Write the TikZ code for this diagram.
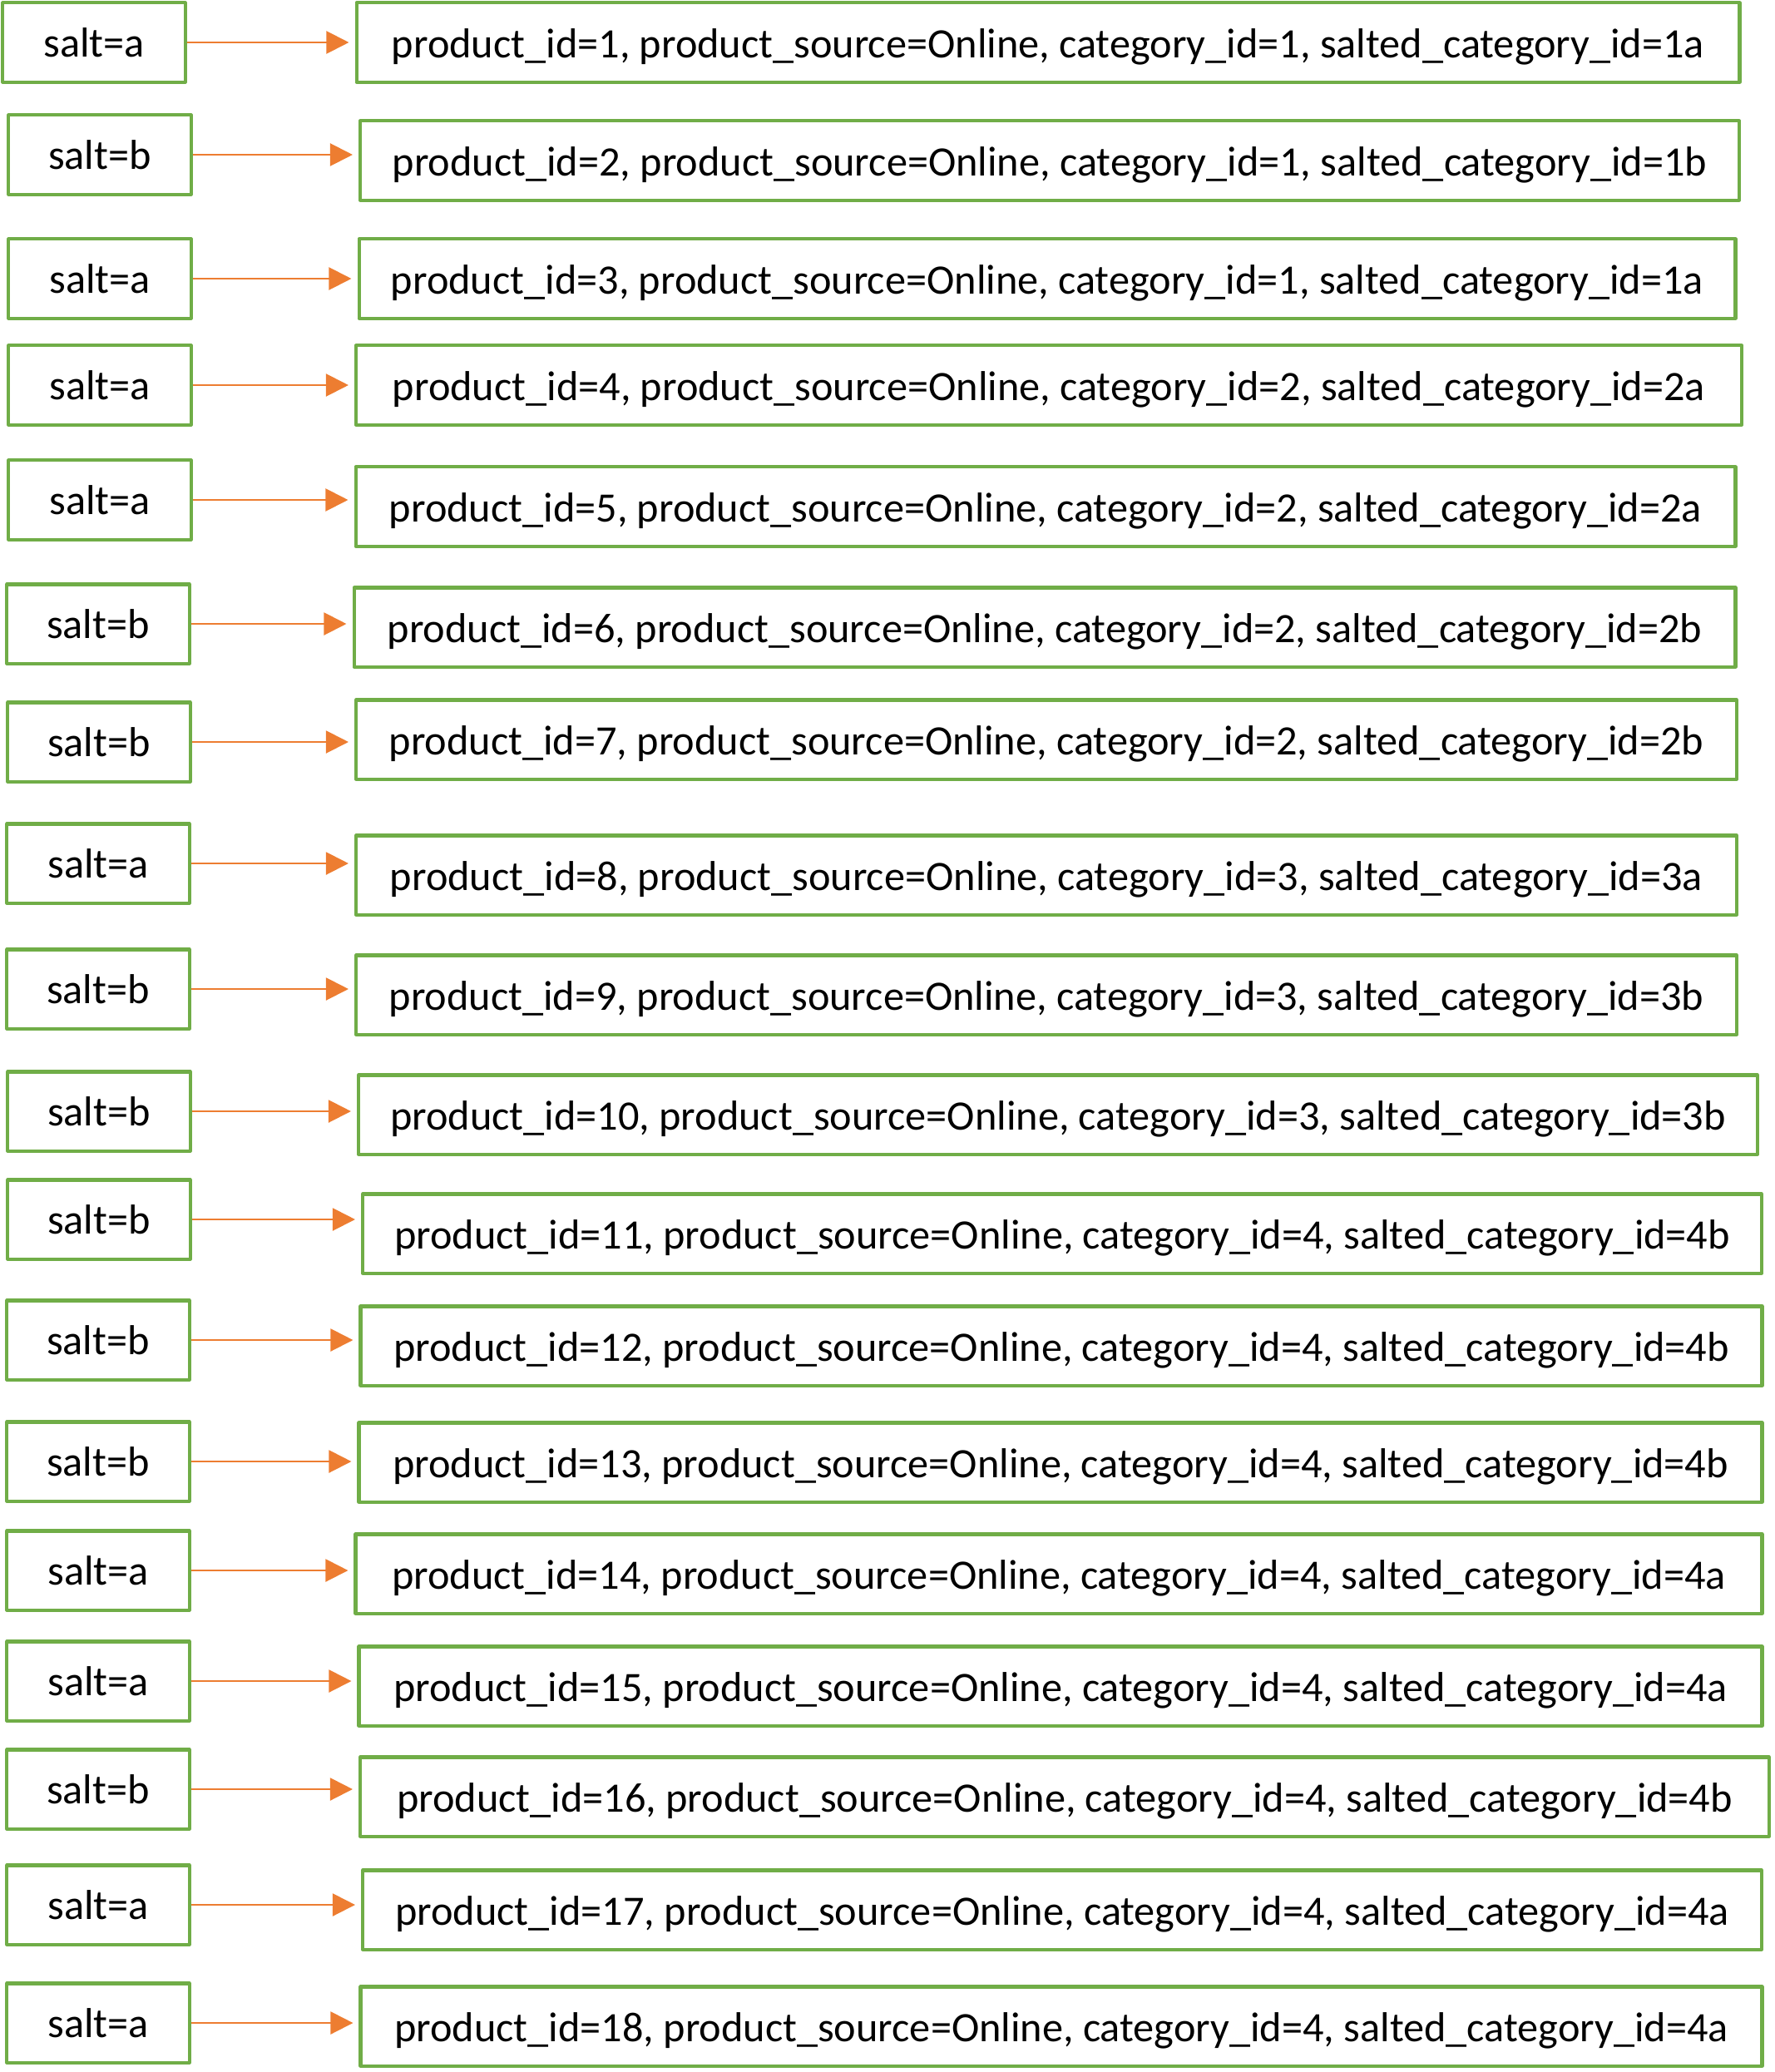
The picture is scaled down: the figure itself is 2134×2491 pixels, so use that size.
\documentclass[tikz,border=0pt]{standalone}
\usepackage{fontspec}
\setmainfont{Carlito}
\usepackage{xcolor}
\usetikzlibrary{arrows.meta}

\definecolor{boxgreen}{HTML}{70AD47}
\definecolor{arroworange}{HTML}{ED7D31}

\tikzset{
    saltbox/.style={draw=boxgreen, line width=1.15pt, minimum width=2.19cm, minimum height=0.95cm, inner sep=0pt, font=\fontsize{14.3}{16}\selectfont},
    prodbox/.style={draw=boxgreen, line width=1.15pt, minimum height=0.95cm, inner sep=0pt, text height=1.2em, text depth=0.16em, font=\fontsize{14.3}{16}\selectfont},
    saltarrow/.style={draw=arroworange, line width=0.6pt, -{Triangle[length=7.7pt,width=7.7pt]}, shorten >=2pt}
}

\begin{document}
\begin{tikzpicture}[x=0.01cm, y=-0.01cm, line join = round]

                \useasboundingbox (0,0) rectangle (2134,2491);

                % salt column
                \node[saltbox] (s1) at (113,51) {salt=a};
                \node[saltbox] (s2) at (120,186) {salt=b};
                \node[saltbox] (s3) at (120,335) {salt=a};
                \node[saltbox] (s4) at (120,463) {salt=a};
                \node[saltbox] (s5) at (120,601) {salt=a};
                \node[saltbox] (s6) at (118,750) {salt=b};
                \node[saltbox] (s7) at (119,892) {salt=b};
                \node[saltbox] (s8) at (118,1038) {salt=a};
                \node[saltbox] (s9) at (118,1189) {salt=b};
                \node[saltbox] (s10) at (119,1336) {salt=b};
                \node[saltbox] (s11) at (119,1466) {salt=b};
                \node[saltbox] (s12) at (118,1611) {salt=b};
                \node[saltbox] (s13) at (118,1757) {salt=b};
                \node[saltbox] (s14) at (118,1888) {salt=a};
                \node[saltbox] (s15) at (118,2021) {salt=a};
                \node[saltbox] (s16) at (118,2151) {salt=b};
                \node[saltbox] (s17) at (118,2290) {salt=a};
                \node[saltbox] (s18) at (118,2432) {salt=a};

                % product column
                \node[prodbox, minimum width=16.62cm] (p1) at (1260,51) {product\_id=1, product\_source=Online, category\_id=1, salted\_category\_id=1a};
                \node[prodbox, minimum width=16.57cm] (p2) at (1262,193) {product\_id=2, product\_source=Online, category\_id=1, salted\_category\_id=1b};
                \node[prodbox, minimum width=16.54cm] (p3) at (1259,335) {product\_id=3, product\_source=Online, category\_id=1, salted\_category\_id=1a};
                \node[prodbox, minimum width=16.65cm] (p4) at (1261,463) {product\_id=4, product\_source=Online, category\_id=2, salted\_category\_id=2a};
                \node[prodbox, minimum width=16.58cm] (p5) at (1257,609) {product\_id=5, product\_source=Online, category\_id=2, salted\_category\_id=2a};
                \node[prodbox, minimum width=16.60cm] (p6) at (1256,754) {product\_id=6, product\_source=Online, category\_id=2, salted\_category\_id=2b};
                \node[prodbox, minimum width=16.59cm] (p7) at (1258,889) {product\_id=7, product\_source=Online, category\_id=2, salted\_category\_id=2b};
                \node[prodbox, minimum width=16.59cm] (p8) at (1258,1052) {product\_id=8, product\_source=Online, category\_id=3, salted\_category\_id=3a};
                \node[prodbox, minimum width=16.59cm] (p9) at (1258,1196) {product\_id=9, product\_source=Online, category\_id=3, salted\_category\_id=3b};
                \node[prodbox, minimum width=16.81cm] (p10) at (1272,1340) {product\_id=10, product\_source=Online, category\_id=3, salted\_category\_id=3b};
                \node[prodbox, minimum width=16.81cm] (p11) at (1277,1483) {product\_id=11, product\_source=Online, category\_id=4, salted\_category\_id=4b};
                \node[prodbox, minimum width=16.84cm] (p12) at (1276,1618) {product\_id=12, product\_source=Online, category\_id=4, salted\_category\_id=4b};
                \node[prodbox, minimum width=16.86cm] (p13) at (1275,1758) {product\_id=13, product\_source=Online, category\_id=4, salted\_category\_id=4b};
                \node[prodbox, minimum width=16.90cm] (p14) at (1273,1892) {product\_id=14, product\_source=Online, category\_id=4, salted\_category\_id=4a};
                \node[prodbox, minimum width=16.86cm] (p15) at (1275,2027) {product\_id=15, product\_source=Online, category\_id=4, salted\_category\_id=4a};
                \node[prodbox, minimum width=16.93cm] (p16) at (1280,2160) {product\_id=16, product\_source=Online, category\_id=4, salted\_category\_id=4b};
                \node[prodbox, minimum width=16.81cm] (p17) at (1277,2296) {product\_id=17, product\_source=Online, category\_id=4, salted\_category\_id=4a};
                \node[prodbox, minimum width=16.84cm] (p18) at (1276,2436) {product\_id=18, product\_source=Online, category\_id=4, salted\_category\_id=4a};

                % arrows
                \draw[saltarrow] (s1.east) -- (s1.east -| p1.west);
                \draw[saltarrow] (s2.east) -- (s2.east -| p2.west);
                \draw[saltarrow] (s3.east) -- (s3.east -| p3.west);
                \draw[saltarrow] (s4.east) -- (s4.east -| p4.west);
                \draw[saltarrow] (s5.east) -- (s5.east -| p5.west);
                \draw[saltarrow] (s6.east) -- (s6.east -| p6.west);
                \draw[saltarrow] (s7.east) -- (s7.east -| p7.west);
                \draw[saltarrow] (s8.east) -- (s8.east -| p8.west);
                \draw[saltarrow] (s9.east) -- (s9.east -| p9.west);
                \draw[saltarrow] (s10.east) -- (s10.east -| p10.west);
                \draw[saltarrow] (s11.east) -- (s11.east -| p11.west);
                \draw[saltarrow] (s12.east) -- (s12.east -| p12.west);
                \draw[saltarrow] (s13.east) -- (s13.east -| p13.west);
                \draw[saltarrow] (s14.east) -- (s14.east -| p14.west);
                \draw[saltarrow] (s15.east) -- (s15.east -| p15.west);
                \draw[saltarrow] (s16.east) -- (s16.east -| p16.west);
                \draw[saltarrow] (s17.east) -- (s17.east -| p17.west);
                \draw[saltarrow] (s18.east) -- (s18.east -| p18.west);

\end{tikzpicture}
\end{document}
